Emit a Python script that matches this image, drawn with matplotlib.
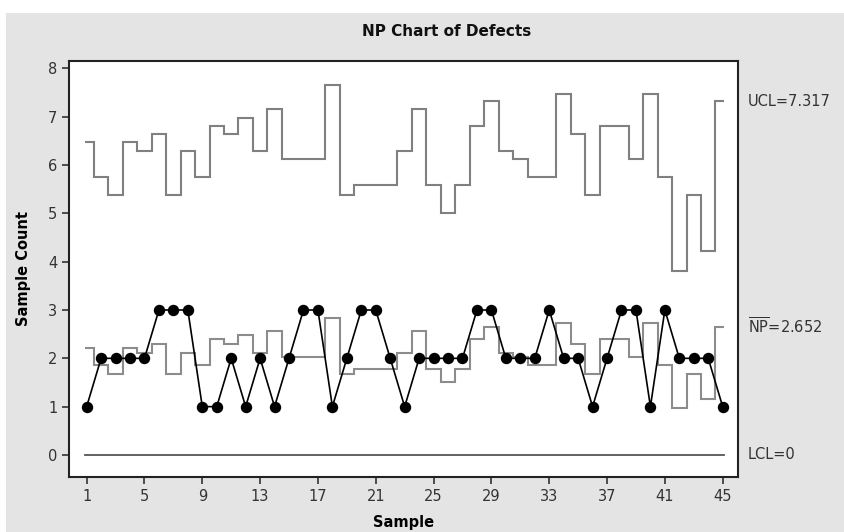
import numpy as np
import matplotlib
matplotlib.use('Agg')
import matplotlib.pyplot as plt
from matplotlib.patches import Rectangle

# NP chart data
samples = np.arange(1, 46)
defects = [1, 2, 2, 2, 2, 3, 3, 3, 1, 1, 2, 1, 2, 1, 2, 3, 3, 1, 2, 3, 3, 2, 1,
           2, 2, 2, 2, 3, 3, 2, 2, 2, 3, 2, 2, 1, 2, 3, 3, 1, 3, 2, 2, 2, 1]
ucl = [6.47, 5.76, 5.39, 6.47, 6.29, 6.64, 5.39, 6.29, 5.76, 6.81, 6.64, 6.98,
       6.29, 7.15, 6.12, 6.12, 6.12, 7.65, 5.39, 5.58, 5.58, 5.58, 6.29, 7.15,
       5.58, 5.01, 5.58, 6.81, 7.317, 6.29, 6.12, 5.76, 5.76, 7.48, 6.64, 5.39,
       6.81, 6.81, 6.12, 7.48, 5.76, 3.80, 5.39, 4.22, 7.317]
center = [2.21, 1.86, 1.68, 2.21, 2.12, 2.30, 1.68, 2.12, 1.86, 2.39, 2.30, 2.48,
          2.12, 2.56, 2.03, 2.03, 2.03, 2.83, 1.68, 1.77, 1.77, 1.77, 2.12, 2.56,
          1.77, 1.50, 1.77, 2.39, 2.652, 2.12, 2.03, 1.86, 1.86, 2.74, 2.30, 1.68,
          2.39, 2.39, 2.03, 2.74, 1.86, 0.97, 1.68, 1.15, 2.652]
lcl = 0
labels = ['UCL=7.317', r'$\overline{\mathrm{NP}}$=2.652', 'LCL=0']
label_y = [7.317, 2.652, 0]

plt.rcParams['font.family'] = 'DejaVu Sans'
plt.rcParams['mathtext.fontset'] = 'dejavusans'

W, H = 844, 532
fig = plt.figure(figsize=(W / 100, H / 100), dpi=100)
fig.patch.set_facecolor('white')
fig.add_artist(Rectangle((6 / W, 0), 1, (H - 13) / H, transform=fig.transFigure,
                         facecolor='#e4e4e4', edgecolor='none', zorder=-10))

left, right, top, bottom = 69.3, 738.3, 60.7, 476.7
ax = fig.add_axes([left / W, 1 - bottom / H, (right - left) / W, (bottom - top) / H])
ax.set_facecolor('white')

edges = np.concatenate([[samples[0] - 0.1], samples[:-1] + 0.5, [samples[-1] + 0.1]])
ax.stairs(ucl, edges, baseline=None, color='#808080', lw=1.5)
ax.stairs(center, edges, baseline=None, color='#8c8c8c', lw=1.5)
ax.plot([edges[0], edges[-1]], [lcl, lcl], color='#555555', lw=1.3)
ax.plot(samples, defects, color='black', lw=1.2, marker='o', markersize=7.2,
        markerfacecolor='black', markeredgecolor='black')

for txt, yv in zip(labels, label_y):
    ax.text(1.0145, yv, txt, transform=ax.get_yaxis_transform(), ha='left',
            va='center', fontsize=10.5, color='#333333')

ax.set_xlim(-0.2, 46.08)
ax.set_ylim(-0.45, 8.16)
ax.set_xticks(np.arange(1, 46, 4))
ax.set_yticks(np.arange(0, 9, 1))
ax.tick_params(direction='out', length=5, width=1.2, labelsize=10.5, colors='#333333')
for s in ax.spines.values():
    s.set_linewidth(1.5)
    s.set_color('#222222')

ax.set_xlabel('Sample', fontsize=10.5, fontweight='bold', labelpad=8)
ax.set_ylabel('Sample Count', fontsize=10.5, fontweight='bold', labelpad=12)
fig.text(447 / W, 1 - 31 / H, 'NP Chart of Defects', ha='center', va='center',
         fontsize=11, fontweight='bold', color='#111111')

fig.savefig('out.png', dpi=100)
